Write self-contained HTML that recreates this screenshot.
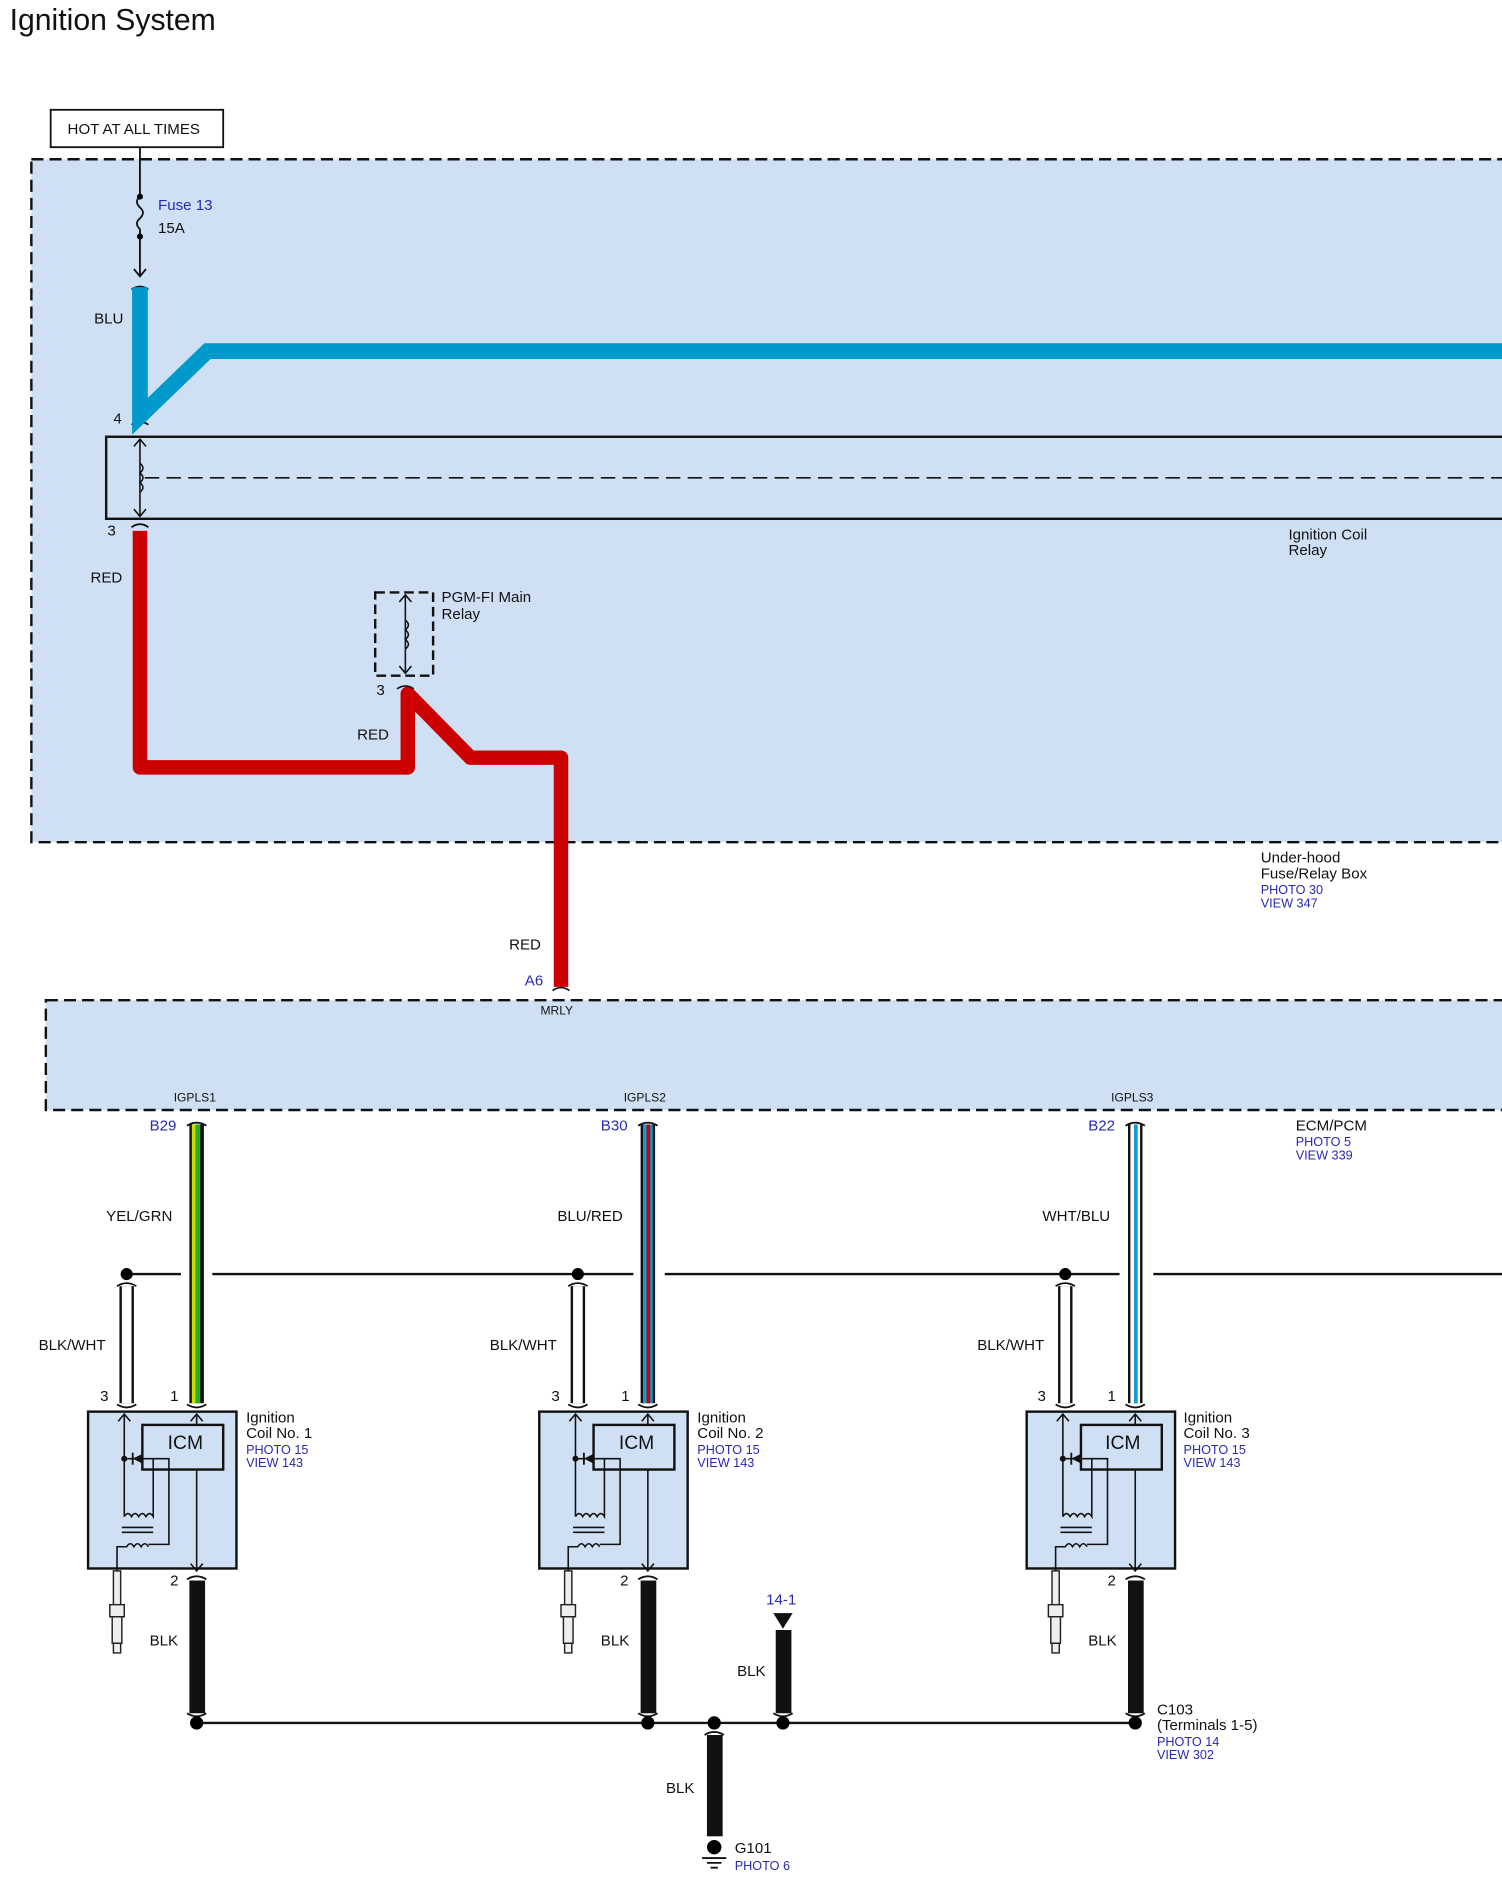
<!DOCTYPE html>
<html><head><meta charset="utf-8"><style>
html,body{margin:0;padding:0;background:#fff}
svg{display:block}
text{font-family:"Liberation Sans",sans-serif;font-size:12.5px;fill:#111}
.b{fill:#2a2ab0;font-size:10.5px}
.s{font-size:10px}
</style></head><body>
<svg width="1502" height="1887" viewBox="0 0 1245 1564" preserveAspectRatio="none" xmlns="http://www.w3.org/2000/svg">
<defs>
<g id="coil">
 <rect x="73" y="1170" width="123" height="130" fill="#cfe0f4" stroke="#111" stroke-width="2"/>
 <rect x="118" y="1181" width="67" height="37" fill="#cfe0f4" stroke="#111" stroke-width="2"/>
 <g fill="none" stroke="#111" stroke-width="1.3">
  <path d="M103 1172 V1257 M98 1178 L103 1172 L108 1178"/>
  <path d="M163 1172 V1181 M158 1178 L163 1172 L168 1178"/>
  <path d="M163 1218 V1302 M158 1296 L163 1302 L168 1296"/>
  <path d="M103 1209 H140 V1280 H123"/>
  <path d="M103 1257 q3 -5 6 0 q3 -5 6 0 q3 -5 6 0 q3 -5 6 0 V1209"/>
  <path d="M101 1266 H127 M101 1270 H127"/>
  <path d="M97 1302 V1282 H105 q3 -5 6 0 q3 -5 6 0 q3 -5 6 0"/>
 </g>
 <path d="M118 1205 V1213 L110 1209 Z" fill="#111"/><path d="M110 1204 V1214" stroke="#111" stroke-width="1.5"/>
 <circle cx="103" cy="1209" r="2.5" fill="#111"/>
 <g fill="#eee" stroke="#222" stroke-width="1.2">
  <rect x="94" y="1302" width="6" height="28"/>
  <path d="M91 1330 h12 v10 h-12 z"/>
  <rect x="93" y="1340" width="8" height="22"/>
  <path d="M94 1362 h6 v8 h-6 z"/>
 </g>
</g>
</defs>
<text x="8" y="25" style="font-size:25px">Ignition System</text>
<rect x="42" y="91" width="143" height="31" fill="#fff" stroke="#111" stroke-width="1.5"/>
<text x="56" y="111">HOT AT ALL TIMES</text>
<rect x="26" y="132" width="1240" height="566" fill="#cfe0f4" stroke="#111" stroke-width="2" stroke-dasharray="10,5"/>
<g fill="none" stroke="#111" stroke-width="1.5">
 <path d="M116 122 V163 q-5 4 0 9 q5 4 0 9 q-5 4 0 9 V229 M111 223 L116 229 L121 223"/>
 <path d="M109 240 q7 -5 14 0 M109 352 q7 -5 14 0 M109 437 q7 -5 14 0"/>
</g>
<circle cx="116" cy="163" r="2.5"/><circle cx="116" cy="196" r="2.5"/>
<text x="131" y="174" class="b" style="font-size:12.5px">Fuse 13</text>
<text x="131" y="193">15A</text>
<path d="M116 238 V345 L172 291 H1245" fill="none" stroke="#0099cc" stroke-width="13"/>
<text x="78" y="268">BLU</text>
<text x="94" y="351">4</text>
<rect x="88" y="362" width="1170" height="68" fill="none" stroke="#111" stroke-width="2"/>
<g fill="none" stroke="#111" stroke-width="1.3">
 <path d="M116 364 V428 M111 370 L116 364 L121 370 M111 422 L116 428 L121 422"/>
 <path d="M116 384 q5 4 0 8 q5 4 0 8 q5 4 0 8"/>
 <path d="M120 396 H1245" stroke-dasharray="12,6"/>
</g>
<text x="89" y="444">3</text>
<text x="1068" y="447">Ignition Coil</text><text x="1068" y="460">Relay</text>
<path d="M116 440 V636 H338 V575 L390 628 H465 V818" fill="none" stroke="#cc0000" stroke-width="12" stroke-linejoin="round"/>
<text x="75" y="483">RED</text>
<rect x="311" y="491" width="48" height="69" fill="none" stroke="#111" stroke-width="2" stroke-dasharray="8,4"/>
<g fill="none" stroke="#111" stroke-width="1.3">
 <path d="M336 493 V558 M331 499 L336 493 L341 499 M331 552 L336 558 L341 552 M336 514 q5 4 0 8 q5 4 0 8 q5 4 0 8"/>
 <path d="M329 571 q7 -5 14 0 M458 821 q7 -5 14 0"/>
</g>
<text x="366" y="499">PGM-FI Main</text><text x="366" y="513">Relay</text>
<text x="312" y="576">3</text>
<text x="296" y="613">RED</text>
<text x="1045" y="715">Under-hood</text><text x="1045" y="728">Fuse/Relay Box</text>
<text x="1045" y="741" class="b">PHOTO 30</text><text x="1045" y="752" class="b">VIEW 347</text>
<text x="422" y="787">RED</text>
<text x="435" y="817" class="b" style="font-size:12.5px">A6</text>
<rect x="38" y="829" width="1230" height="91" fill="#cfe0f4" stroke="#111" stroke-width="2" stroke-dasharray="10,5"/>
<text x="448" y="841" class="s">MRLY</text>
<text x="144" y="913" class="s">IGPLS1</text>
<text x="517" y="913" class="s">IGPLS2</text>
<text x="921" y="913" class="s">IGPLS3</text>
<text x="1074" y="937">ECM/PCM</text>
<text x="1074" y="950" class="b">PHOTO 5</text><text x="1074" y="961" class="b">VIEW 339</text>
<path d="M105 1056 H150 M176 1056 H525 M551 1056 H928 M956 1056 H1245" stroke="#111" stroke-width="2"/>
<rect x="157" y="932" width="12" height="231" fill="#111"/><rect x="159" y="932" width="3" height="231" fill="#c8e000"/><rect x="162" y="932" width="4" height="231" fill="#33aa22"/>
<rect x="531" y="932" width="12" height="231" fill="#111"/><rect x="533" y="932" width="3" height="231" fill="#1a9ad6"/><rect x="536" y="932" width="3" height="231" fill="#cc0000"/><rect x="539" y="932" width="2" height="231" fill="#1a9ad6"/>
<rect x="935" y="932" width="12" height="231" fill="#111"/><rect x="937" y="932" width="3" height="231" fill="#fff"/><rect x="940" y="932" width="3" height="231" fill="#1a9ad6"/><rect x="943" y="932" width="2" height="231" fill="#fff"/>
<rect x="99" y="1066" width="12" height="97" fill="#111"/><rect x="101" y="1066" width="8" height="97" fill="#fff"/>
<rect x="473" y="1066" width="12" height="97" fill="#111"/><rect x="475" y="1066" width="8" height="97" fill="#fff"/>
<rect x="877" y="1066" width="12" height="97" fill="#111"/><rect x="879" y="1066" width="8" height="97" fill="#fff"/>
<circle cx="105" cy="1056" r="5"/><circle cx="479" cy="1056" r="5"/><circle cx="883" cy="1056" r="5"/>
<g fill="none" stroke="#111" stroke-width="1.5">
 <path d="M155 933 q8 -5 16 0 M529 933 q8 -5 16 0 M933 933 q8 -5 16 0"/>
 <path d="M97 1066 q8 -5 16 0 M471 1066 q8 -5 16 0 M875 1066 q8 -5 16 0"/>
 <path d="M97 1164 q8 5 16 0 M155 1164 q8 5 16 0 M471 1164 q8 5 16 0 M529 1164 q8 5 16 0 M875 1164 q8 5 16 0 M933 1164 q8 5 16 0"/>
 <path d="M155 1309 q8 -5 16 0 M529 1309 q8 -5 16 0 M933 1309 q8 -5 16 0"/>
 <path d="M155 1420 q8 5 16 0 M529 1420 q8 5 16 0 M641 1420 q8 5 16 0 M933 1420 q8 5 16 0 M584 1438 q8 -5 16 0"/>
</g>
<text x="124" y="937" class="b" style="font-size:12.5px">B29</text>
<text x="498" y="937" class="b" style="font-size:12.5px">B30</text>
<text x="902" y="937" class="b" style="font-size:12.5px">B22</text>
<text x="88" y="1012">YEL/GRN</text><text x="462" y="1012">BLU/RED</text><text x="864" y="1012">WHT/BLU</text>
<text x="32" y="1119">BLK/WHT</text><text x="406" y="1119">BLK/WHT</text><text x="810" y="1119">BLK/WHT</text>
<use href="#coil"/><use href="#coil" x="374"/><use href="#coil" x="778"/>
<text x="83" y="1161">3</text><text x="141" y="1161">1</text>
<text x="457" y="1161">3</text><text x="515" y="1161">1</text>
<text x="860" y="1161">3</text><text x="918" y="1161">1</text>
<text x="139" y="1201" style="font-size:16px">ICM</text>
<text x="513" y="1201" style="font-size:16px">ICM</text>
<text x="916" y="1201" style="font-size:16px">ICM</text>
<text x="204" y="1179">Ignition</text><text x="204" y="1192">Coil No. 1</text><text x="204" y="1205" class="b">PHOTO 15</text><text x="204" y="1216" class="b">VIEW 143</text>
<text x="578" y="1179">Ignition</text><text x="578" y="1192">Coil No. 2</text><text x="578" y="1205" class="b">PHOTO 15</text><text x="578" y="1216" class="b">VIEW 143</text>
<text x="981" y="1179">Ignition</text><text x="981" y="1192">Coil No. 3</text><text x="981" y="1205" class="b">PHOTO 15</text><text x="981" y="1216" class="b">VIEW 143</text>
<text x="141" y="1314">2</text><text x="514" y="1314">2</text><text x="918" y="1314">2</text>
<rect x="157" y="1310" width="13" height="110" fill="#111"/>
<rect x="531" y="1310" width="13" height="110" fill="#111"/>
<rect x="935" y="1310" width="13" height="110" fill="#111"/>
<rect x="643" y="1351" width="13" height="69" fill="#111"/>
<rect x="586" y="1438" width="13" height="84" fill="#111"/>
<path d="M641 1337 H657 L649 1350 Z" fill="#111"/>
<text x="635" y="1330" class="b" style="font-size:12.5px">14-1</text>
<text x="124" y="1364">BLK</text><text x="498" y="1364">BLK</text><text x="902" y="1364">BLK</text>
<text x="611" y="1389">BLK</text><text x="552" y="1486">BLK</text>
<path d="M163 1428 H941" stroke="#111" stroke-width="2"/>
<circle cx="163" cy="1428" r="5.5"/><circle cx="537" cy="1428" r="5.5"/><circle cx="592" cy="1428" r="5.5"/><circle cx="649" cy="1428" r="5.5"/><circle cx="941" cy="1428" r="5.5"/>
<circle cx="592" cy="1531" r="6"/>
<path d="M582 1540 H602 M586 1544 H598 M589 1548 H595" stroke="#111" stroke-width="1.5"/>
<text x="609" y="1536">G101</text><text x="609" y="1550" class="b">PHOTO 6</text>
<text x="959" y="1421">C103</text><text x="959" y="1434">(Terminals 1-5)</text>
<text x="959" y="1447" class="b">PHOTO 14</text><text x="959" y="1458" class="b">VIEW 302</text>
</svg>
</body></html>
